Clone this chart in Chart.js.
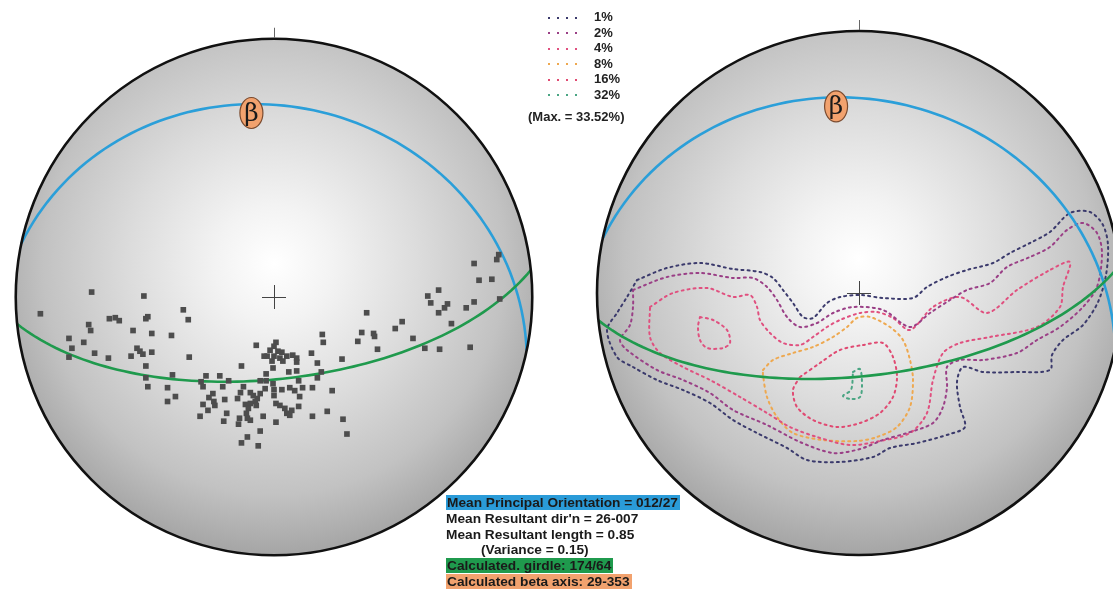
<!DOCTYPE html>
<html>
<head>
<meta charset="utf-8">
<script src="https://cdn.jsdelivr.net/npm/chart.js@4.4.1/dist/chart.umd.min.js"></script>
<style>
  html, body { margin: 0; padding: 0; width: 1113px; height: 590px; overflow: hidden; background: #fff;
    font-family: "Liberation Sans", Arial, sans-serif; }
  .net { position: absolute; width: 560px; height: 560px; }
  .net canvas { width: 560px; height: 560px; }
  #legend { position: absolute; left: 548px; top: 9px; font-weight: bold; font-size: 13px; color: #222; }
  #legend .row { height: 15.5px; line-height: 15.5px; white-space: nowrap; }
  #legend .dots { display: inline-block; width: 34px; height: 2px; vertical-align: middle; margin-right: 12px; }
  #legend .max { position: absolute; left: -20px; top: 100px; white-space: nowrap; }
  #stats { position: absolute; left: 446px; top: 495px; font-weight: bold; font-size: 13.7px; color: #1a1a1a; }
  #stats div { height: 15.8px; line-height: 15.8px; white-space: nowrap; }
  #stats span.hl { padding: 0 2px 0 1px; }
</style>
</head>
<body>
<div class="net" style="left:-6px; top:17px;"><canvas id="poleNet" width="560" height="560"></canvas></div>
<div class="net" style="left:579px; top:13px;"><canvas id="contourNet" width="560" height="560"></canvas></div>
<div id="legend"></div>
<div id="stats"></div>

<script>
// Net coordinates: x east, y north, primitive circle radius = NET_R
const NET_R = 262;

// Orientation results (dip direction / dip, trend / plunge)
const principalPlane = { dipDir: 12, dip: 27 };
const girdlePlane = { dipDir: 174, dip: 64 };
const betaAxis = { trend: 353, plunge: 29 };
const resultantDir = '26-007';
const resultantLength = 0.85;
const variance = 0.15;

// Poles plotted on the left net
const poles = [
  [-237,-17],[-185,5],[-132,1],[-92,-13],[-87,-23],[-167,-22],[-161,-21],[-157,-24],[-188,-28],[-186,-34],
  [-130,-22],[-128,-20],[-143,-34],[-124,-37],[-104,-39],[-208,-42],[-193,-46],[-205,-52],[-208,-61],[-182,-57],
  [-168,-62],[-139,-52],[-136,-55],[-133,-58],[-145,-60],[-124,-56],[-86,-61],[-130,-70],[-103,-79],[-130,-82],
  [-128,-91],[-108,-92],[-100,-101],[-108,-106],[-69,-80],[-55,-80],[-46,-85],[-74,-86],[-72,-91],[-66,-102],
  [-61,-106],[-60,-110],[-72,-109],[-67,-115],[-75,-121],[-50,-104],[-52,-91],[-51,-126],[-48,-118],[-18,-49],
  [2,-46],[0,-50],[-4,-54],[4,-55],[8,-56],[-7,-60],[0,-60],[6,-62],[13,-60],[19,-59],
  [23,-62],[23,-66],[9,-65],[-2,-65],[-10,-60],[38,-57],[49,-38],[50,-46],[89,-36],[85,-45],
  [69,-63],[44,-67],[-33,-70],[-1,-72],[15,-76],[23,-75],[-8,-78],[48,-76],[44,-82],[-14,-85],
  [-8,-85],[25,-85],[-1,-88],[-31,-91],[-34,-97],[-37,-103],[-24,-97],[-21,-100],[-17,-103],[-14,-98],
  [-19,-106],[-9,-93],[0,-94],[0,-100],[8,-94],[16,-92],[21,-95],[29,-92],[39,-92],[26,-101],
  [59,-95],[-62,-98],[-29,-109],[-24,-108],[-26,-113],[-18,-110],[2,-108],[6,-110],[11,-113],[18,-115],
  [25,-111],[-35,-123],[-36,-129],[-28,-118],[-27,-123],[-24,-125],[-11,-121],[2,-127],[13,-118],[16,-120],
  [39,-121],[54,-116],[70,-124],[74,-139],[-14,-136],[-27,-142],[-33,-148],[-16,-151],
  [203,34],[226,38],[228,43],[208,17],[221,18],[167,7],[156,1],[159,-6],[176,-7],[173,-11],
  [167,-16],[195,-11],[203,-5],[229,-2],[180,-27],[141,-42],[153,-52],[168,-53],[199,-51],[94,-16],
  [130,-25],[123,-32],[101,-37],[102,-40],[105,-53]
];

// Density contours on the right net (closed outlines)
const contourLevels = ['1%', '2%', '4%', '8%', '16%', '32%'];
const contourColors = ['#3b3a6c', '#9a3f86', '#e0507f', '#eea84f', '#e04a72', '#4aa583'];
const maxDensity = '33.52%';

const contour1 = [
  [-222,13],[-192,25],[-159,30],[-126,24],[-99,21],[-86,15],[-76,3],[-66,-10],[-56,-24],[-46,-25],
  [-32,-10],[-19,-4],[1,-2],[24,-5],[54,-5],[68,6],[88,16],[108,23],[134,30],[151,40],
  [171,50],[191,61],[211,80],[231,81],[244,68],[249,48],[247,18],[239,-9],[224,-32],[204,-47],
  [193,-62],[191,-77],[158,-79],[124,-79],[104,-74],[98,-89],[101,-114],[106,-134],[91,-141],[58,-150],
  [31,-155],[14,-164],[-19,-169],[-52,-167],[-72,-155],[-102,-140],[-126,-127],[-149,-110],[-176,-97],[-202,-87],
  [-226,-74],[-242,-64],[-252,-37],[-242,-20],[-232,-4],[-222,13]
];
const contour2 = [
  [-226,3],[-192,16],[-159,20],[-126,15],[-106,15],[-92,6],[-82,-7],[-72,-24],[-59,-34],[-42,-30],
  [-26,-20],[-6,-14],[24,-17],[51,-34],[71,-20],[91,-7],[108,3],[131,10],[148,26],[171,36],
  [191,46],[208,63],[224,70],[238,60],[243,40],[238,6],[224,-14],[201,-34],[178,-47],[158,-60],
  [124,-67],[101,-67],[88,-74],[88,-94],[84,-114],[74,-130],[48,-140],[24,-147],[1,-156],[-26,-160],
  [-59,-149],[-92,-132],[-126,-117],[-149,-100],[-176,-87],[-202,-77],[-232,-57],[-239,-47],[-229,-32],[-226,-14],
  [-226,3]
];
const contour4 = [
  [-209,-14],[-186,0],[-152,5],[-126,-4],[-109,-2],[-102,-14],[-99,-27],[-89,-40],[-76,-50],[-59,-52],
  [-46,-44],[-32,-34],[-19,-27],[1,-20],[18,-19],[34,-25],[51,-37],[74,-14],[101,-4],[128,-20],
  [158,3],[191,23],[211,31],[204,6],[201,-14],[178,-34],[131,-44],[101,-50],[84,-60],[74,-87],
  [68,-120],[51,-140],[21,-148],[-9,-152],[-42,-144],[-69,-134],[-92,-120],[-119,-104],[-149,-87],[-176,-74],
  [-199,-60],[-209,-44],[-209,-14]
];
const contour4West = [
  [-159,-24],[-146,-27],[-132,-37],[-129,-50],[-136,-55],[-152,-55],[-159,-47],[-161,-34],[-159,-24]
];
const contour8 = [
  [-96,-77],[-86,-67],[-66,-60],[-46,-54],[-26,-44],[-12,-34],[-2,-25],[11,-24],[31,-34],[44,-47],
  [51,-67],[54,-87],[51,-114],[38,-134],[18,-144],[-2,-148],[-36,-147],[-66,-140],[-82,-124],[-92,-104],
  [-96,-82],[-96,-77]
];
const contour16 = [
  [-59,-84],[-39,-70],[-19,-57],[4,-52],[24,-50],[34,-64],[38,-84],[34,-104],[21,-120],[1,-130],
  [-22,-134],[-46,-127],[-62,-114],[-66,-97],[-59,-84]
];
const contour32 = [
  [-6,-79],[1,-76],[3,-92],[1,-104],[-8,-106],[-16,-103],[-8,-97],[-6,-79]
];

// ---- projection helpers (Schmidt equal-area, lower hemisphere) ----
const DEG = Math.PI / 180;
function projectLine(trendDeg, plungeDeg) {
  const r = NET_R * Math.SQRT2 * Math.sin((90 - plungeDeg) * DEG / 2);
  return { x: r * Math.sin(trendDeg * DEG), y: r * Math.cos(trendDeg * DEG) };
}
function greatCircle(plane) {
  const s = (plane.dipDir - 90) * DEG, dd = plane.dipDir * DEG, dp = plane.dip * DEG;
  const sv = [Math.sin(s), Math.cos(s), 0];
  const dv = [Math.sin(dd) * Math.cos(dp), Math.cos(dd) * Math.cos(dp), Math.sin(dp)];
  const pts = [];
  for (let a = 0; a <= 180; a += 2) {
    const c = Math.cos(a * DEG), sn = Math.sin(a * DEG);
    const e = c * sv[0] + sn * dv[0], n = c * sv[1] + sn * dv[1], d = c * sv[2] + sn * dv[2];
    const plunge = Math.asin(Math.max(-1, Math.min(1, d))) / DEG;
    const trend = Math.atan2(e, n) / DEG;
    pts.push(projectLine(trend, plunge));
  }
  return pts;
}
const toXY = arr => arr.map(p => ({ x: p[0], y: p[1] }));

// ---- net background, primitive, north mark, centre cross and beta label ----
const netDecor = {
  id: 'netDecor',
  beforeDatasetsDraw(chart) {
    const { ctx, scales: { x, y } } = chart;
    const cx = x.getPixelForValue(0), cy = y.getPixelForValue(0);
    const R = x.getPixelForValue(NET_R) - cx;
    ctx.save();
    const g = ctx.createRadialGradient(cx, cy - 0.13 * R, 0, cx, cy - 0.13 * R, 1.12 * R);
    g.addColorStop(0, '#ffffff');
    g.addColorStop(0.2, '#f3f3f3');
    g.addColorStop(0.5, '#dcdcdc');
    g.addColorStop(0.8, '#c2c2c2');
    g.addColorStop(1, '#a6a6a6');
    ctx.beginPath();
    ctx.arc(cx, cy, R, 0, Math.PI * 2);
    ctx.fillStyle = g;
    ctx.fill();
    ctx.restore();
  },
  afterDatasetsDraw(chart) {
    const { ctx, scales: { x, y } } = chart;
    const cx = x.getPixelForValue(0), cy = y.getPixelForValue(0);
    const R = x.getPixelForValue(NET_R) - cx;
    ctx.save();
    ctx.beginPath();
    ctx.arc(cx, cy, R, 0, Math.PI * 2);
    ctx.lineWidth = 2.6;
    ctx.strokeStyle = '#111';
    ctx.stroke();
    // north mark
    ctx.beginPath();
    ctx.moveTo(cx + 0.5, cy - R - 1);
    ctx.lineTo(cx + 0.5, cy - R - 11);
    ctx.lineWidth = 1;
    ctx.strokeStyle = '#666';
    ctx.stroke();
    // centre cross
    ctx.beginPath();
    ctx.moveTo(cx - 12, cy + 0.5); ctx.lineTo(cx + 12, cy + 0.5);
    ctx.moveTo(cx + 0.5, cy - 12); ctx.lineTo(cx + 0.5, cy + 12);
    ctx.strokeStyle = '#444';
    ctx.stroke();
    // beta axis label
    const b = projectLine(betaAxis.trend, betaAxis.plunge);
    const bx = x.getPixelForValue(b.x), by = y.getPixelForValue(b.y);
    ctx.beginPath();
    ctx.ellipse(bx, by, 11.5, 15.5, 0, 0, Math.PI * 2);
    ctx.fillStyle = '#f2a26e';
    ctx.fill();
    ctx.lineWidth = 1.2;
    ctx.strokeStyle = '#7a4a2e';
    ctx.stroke();
    ctx.fillStyle = '#1a1a1a';
    ctx.font = '25px "DejaVu Serif", "Liberation Serif", serif';
    ctx.textAlign = 'center';
    ctx.textBaseline = 'middle';
    ctx.fillText('β', bx, by + 1);
    ctx.restore();
  }
};

function planeDatasets() {
  return [
    { data: greatCircle(principalPlane), showLine: true, borderColor: '#2b9fd9', borderWidth: 2.6,
      pointRadius: 0, fill: false, order: 5 },
    { data: greatCircle(girdlePlane), showLine: true, borderColor: '#1f9a4d', borderWidth: 2.6,
      pointRadius: 0, fill: false, order: 4 }
  ];
}

function netOptions() {
  const lim = NET_R * 280 / 262;
  return {
    responsive: false,
    animation: false,
    devicePixelRatio: 1,
    layout: { padding: 0 },
    events: [],
    scales: {
      x: { type: 'linear', min: -lim, max: lim, display: false },
      y: { type: 'linear', min: -lim, max: lim, display: false }
    },
    plugins: { legend: { display: false }, tooltip: { enabled: false } }
  };
}

// Left net: poles with principal plane and girdle
new Chart(document.getElementById('poleNet'), {
  type: 'scatter',
  data: {
    datasets: [
      { data: toXY(poles), pointStyle: 'rect', pointRadius: 4, backgroundColor: '#4d4d4d',
        borderWidth: 0, order: 0 },
      ...planeDatasets()
    ]
  },
  options: netOptions(),
  plugins: [netDecor]
});

// Right net: density contours with principal plane and girdle
const contourSets = [
  [contour1, 0], [contour2, 1], [contour4, 2], [contour4West, 2], [contour8, 3], [contour16, 4], [contour32, 5]
];
new Chart(document.getElementById('contourNet'), {
  type: 'scatter',
  data: {
    datasets: [
      ...contourSets.map(([pts, lvl], i) => ({
        label: contourLevels[lvl], data: toXY(pts), showLine: true, borderColor: contourColors[lvl],
        borderWidth: 2, borderDash: [2, 4], borderCapStyle: 'round', tension: 0.3,
        pointRadius: 0, fill: false, order: 10 + i
      })),
      ...planeDatasets()
    ]
  },
  options: netOptions(),
  plugins: [netDecor]
});

// Contour legend
const legend = document.getElementById('legend');
contourLevels.forEach((lvl, i) => {
  const row = document.createElement('div');
  row.className = 'row';
  const dots = document.createElement('span');
  dots.className = 'dots';
  dots.style.background = `repeating-linear-gradient(to right, ${contourColors[i]} 0 2px, transparent 2px 9px)`;
  row.appendChild(dots);
  row.appendChild(document.createTextNode(lvl));
  legend.appendChild(row);
});
const maxRow = document.createElement('div');
maxRow.className = 'max';
maxRow.textContent = `(Max. = ${maxDensity})`;
legend.appendChild(maxRow);

// Orientation summary
const pad3 = n => String(n).padStart(3, '0');
const statLines = [
  { text: `Mean Principal Orientation = ${pad3(principalPlane.dipDir)}/${principalPlane.dip}`, bg: '#2a9bd8' },
  { text: `Mean Resultant dir'n = ${resultantDir}` },
  { text: `Mean Resultant length = ${resultantLength.toFixed(2)}` },
  { text: `(Variance = ${variance.toFixed(2)})`, indent: 35 },
  { text: `Calculated. girdle: ${girdlePlane.dipDir}/${girdlePlane.dip}`, bg: '#1f9a4d' },
  { text: `Calculated beta axis: ${betaAxis.plunge}-${pad3(betaAxis.trend)}`, bg: '#f2a26e' }
];
const stats = document.getElementById('stats');
statLines.forEach(l => {
  const d = document.createElement('div');
  const s = document.createElement('span');
  s.textContent = l.text;
  if (l.bg) { s.className = 'hl'; s.style.background = l.bg; }
  if (l.indent) d.style.paddingLeft = l.indent + 'px';
  d.appendChild(s);
  stats.appendChild(d);
});
</script>
</body>
</html>
